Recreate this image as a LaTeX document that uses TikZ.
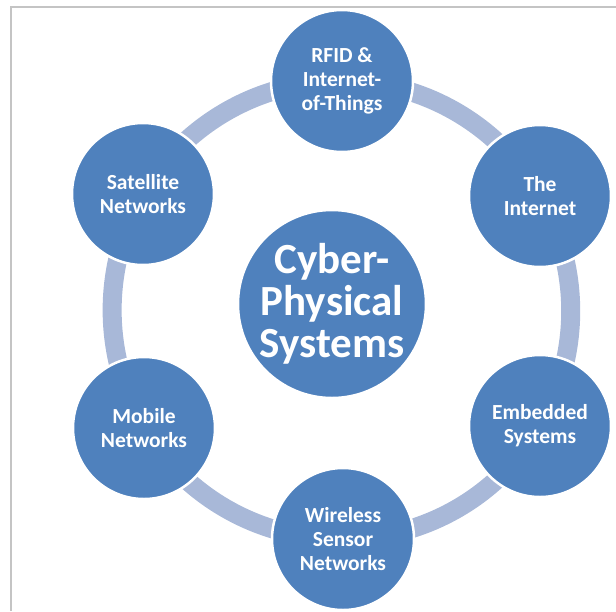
\documentclass[tikz,border=0pt]{standalone}
\usepackage{fontspec}
\setmainfont{Carlito}
\usetikzlibrary{backgrounds}
\definecolor{nodeblue}{HTML}{4F81BD}
\definecolor{bandblue}{HTML}{A8B8D8}
\definecolor{framegray}{HTML}{C4C4C4}
\tikzset{
  outer/.style={circle, minimum size=142pt, inner sep=0pt, fill=nodeblue, draw=white, line width=2.5pt,
    text=white, align=center, font=\bfseries\fontsize{21.5}{24}\selectfont},
  hub/.style={circle, minimum size=188pt, inner sep=0pt, fill=nodeblue, draw=white, line width=2.5pt,
    text=white, align=center, font=\bfseries\fontsize{43}{42}\selectfont},
  band/.style={draw=bandblue, line width=19pt, bend left=30, looseness=0.913},
  framel/.style={draw=framegray, line width=1.6pt}
}
\begin{document}
\begin{tikzpicture}[x=1pt,y=-1pt]
\useasboundingbox (0,0) rectangle (616,611);
\draw[framel] (11,611) -- (11,7) -- (616,7);
\node[outer] (rfid) at (342,81) {RFID \&\\Internet-\\of-Things};
\node[outer] (inet) at (540,196) {The\\Internet};
\node[outer] (emb) at (540,426) {Embedded\\Systems};
\node[outer] (wsn) at (343,539) {Wireless\\Sensor\\Networks};
\node[outer] (mob) at (144,428) {Mobile\\Networks};
\node[outer] (sat) at (143,194) {Satellite\\Networks};
\node[hub] (cps) at (332,304) {Cyber-\\Physical\\Systems};
\begin{pgfonlayer}{background}
\draw[band] (rfid.center) to (inet.center);
\draw[band] (inet.center) to (emb.center);
\draw[band] (emb.center) to (wsn.center);
\draw[band] (wsn.center) to (mob.center);
\draw[band] (mob.center) to (sat.center);
\draw[band] (sat.center) to (rfid.center);
\end{pgfonlayer}
\end{tikzpicture}
\end{document}
